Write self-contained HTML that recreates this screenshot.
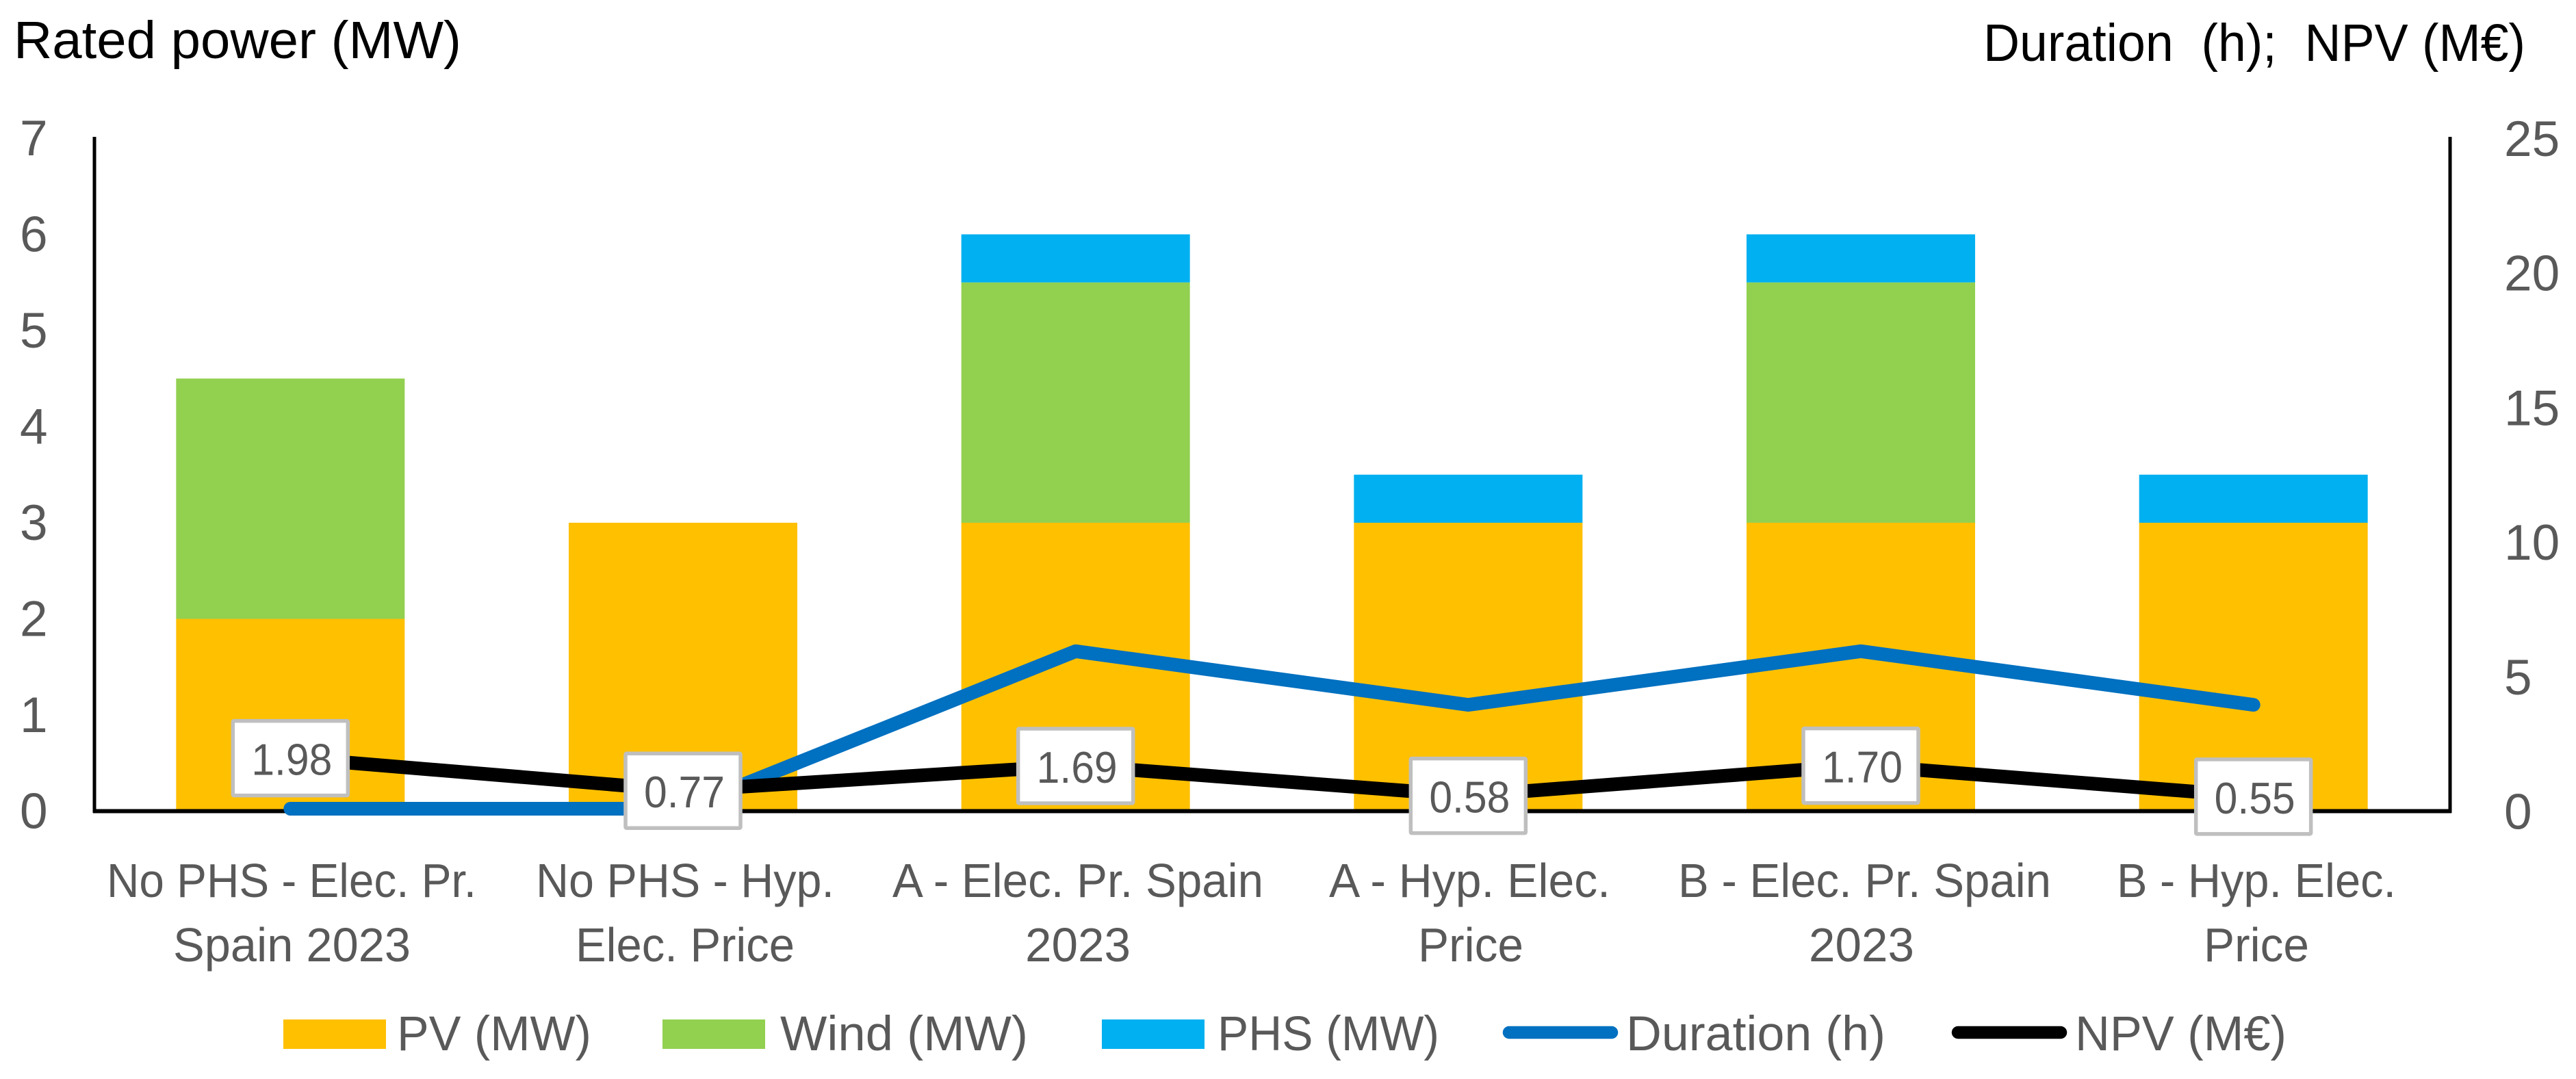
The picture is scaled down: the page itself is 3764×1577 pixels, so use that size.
<!DOCTYPE html>
<html lang="en">
<head>
<meta charset="utf-8">
<title>Rated power, duration and NPV by scenario</title>
<style>
html,body{margin:0;padding:0;background:#fff;}
svg{display:block;}
text{font-family:"Liberation Sans",sans-serif;white-space:pre;}
.title{font-size:77px;fill:#000;}
.cat{font-size:70px;fill:#595959;}
.leg{font-size:71px;fill:#595959;}
.tick{font-size:73px;fill:#595959;}
.dl{font-size:65px;fill:#595959;text-anchor:middle;}
</style>
</head>
<body>
<svg id="chart" xmlns="http://www.w3.org/2000/svg" width="3764" height="1577" viewBox="0 0 3764 1577">
  <rect x="0" y="0" width="3764" height="1577" fill="#fff"/>
  <text class="title" x="20" y="85" textLength="654" lengthAdjust="spacingAndGlyphs">Rated power (MW)</text>
  <text class="title" x="2898" y="89" textLength="792" lengthAdjust="spacingAndGlyphs">Duration  (h);  NPV (M€)</text>
  <g id="bars"></g>
  <g id="axes">
    <line x1="138" y1="200" x2="138" y2="1188" stroke="#000" stroke-width="5"/>
    <line x1="3580" y1="200" x2="3580" y2="1188" stroke="#000" stroke-width="5"/>
    <line x1="136" y1="1185.5" x2="3582" y2="1185.5" stroke="#000" stroke-width="6"/>
  </g>
  <g id="ticks"></g>
  <g id="lines"></g>
  <g id="labels"></g>
  <g>
    <text class="cat" x="156" y="1311" textLength="540" lengthAdjust="spacingAndGlyphs">No PHS - Elec. Pr.</text>
    <text class="cat" x="253" y="1405" textLength="347" lengthAdjust="spacingAndGlyphs">Spain 2023</text>
    <text class="cat" x="783" y="1311" textLength="436" lengthAdjust="spacingAndGlyphs">No PHS - Hyp.</text>
    <text class="cat" x="841" y="1405" textLength="320" lengthAdjust="spacingAndGlyphs">Elec. Price</text>
    <text class="cat" x="1304" y="1311" textLength="542" lengthAdjust="spacingAndGlyphs">A - Elec. Pr. Spain</text>
    <text class="cat" x="1498" y="1405" textLength="154" lengthAdjust="spacingAndGlyphs">2023</text>
    <text class="cat" x="1942" y="1311" textLength="411" lengthAdjust="spacingAndGlyphs">A - Hyp. Elec.</text>
    <text class="cat" x="2072" y="1405" textLength="154" lengthAdjust="spacingAndGlyphs">Price</text>
    <text class="cat" x="2452" y="1311" textLength="545" lengthAdjust="spacingAndGlyphs">B - Elec. Pr. Spain</text>
    <text class="cat" x="2643" y="1405" textLength="154" lengthAdjust="spacingAndGlyphs">2023</text>
    <text class="cat" x="3093" y="1311" textLength="408" lengthAdjust="spacingAndGlyphs">B - Hyp. Elec.</text>
    <text class="cat" x="3220" y="1405" textLength="154" lengthAdjust="spacingAndGlyphs">Price</text>
  </g>
  <g>
    <g>
      <rect x="414" y="1490" width="150" height="43" fill="#FFC000"/>
      <text class="leg" x="580" y="1535" textLength="284" lengthAdjust="spacingAndGlyphs">PV (MW)</text>
    </g>
    <g>
      <rect x="968" y="1490" width="150" height="43" fill="#92D050"/>
      <text class="leg" x="1140" y="1535" textLength="362" lengthAdjust="spacingAndGlyphs">Wind (MW)</text>
    </g>
    <g>
      <rect x="1610" y="1490" width="150" height="43" fill="#00B0F0"/>
      <text class="leg" x="1779" y="1535" textLength="324" lengthAdjust="spacingAndGlyphs">PHS (MW)</text>
    </g>
    <g>
      <line x1="2205" y1="1509" x2="2355" y2="1509" stroke="#0070C0" stroke-width="18.5" stroke-linecap="round"/>
      <text class="leg" x="2376" y="1535" textLength="379" lengthAdjust="spacingAndGlyphs">Duration (h)</text>
    </g>
    <g>
      <line x1="2861" y1="1509" x2="3011" y2="1509" stroke="#000" stroke-width="18.5" stroke-linecap="round"/>
      <text class="leg" x="3032" y="1535" textLength="309" lengthAdjust="spacingAndGlyphs">NPV (M€)</text>
    </g>
  </g>
</svg>
<script>
const categories = ["No PHS - Elec. Pr. Spain 2023", "No PHS - Hyp. Elec. Price", "A - Elec. Pr. Spain 2023", "A - Hyp. Elec. Price", "B - Elec. Pr. Spain 2023", "B - Hyp. Elec. Price"];
const pvValues = [2, 3, 3, 3, 3, 3];
const windValues = [2.5, 0, 2.5, 0, 2.5, 0];
const phsValues = [0, 0, 0.5, 0.5, 0.5, 0.5];
const durationValues = [0.09, 0.09, 5.94, 3.95, 5.94, 3.95];
const npvValues = [1.98, 0.77, 1.69, 0.58, 1.70, 0.55];
const leftTicks = [0, 1, 2, 3, 4, 5, 6, 7];
const rightTicks = [0, 5, 10, 15, 20, 25];

const NS = "http://www.w3.org/2000/svg";
const plotLeft = 137.5, plotRight = 3579.5, plotBottom = 1185.5, plotTop = 202;
const leftMax = 7, rightMax = 25, barWidth = 334;
const xCenter = i => plotLeft + (plotRight - plotLeft) * (i + 0.5) / categories.length;
const yLeft = v => plotBottom - (plotBottom - plotTop) * v / leftMax;
const yRight = v => plotBottom - (plotBottom - plotTop) * v / rightMax;
function mk(tag, attrs, parent) {
  const el = document.createElementNS(NS, tag);
  for (const k in attrs) el.setAttribute(k, attrs[k]);
  parent.appendChild(el);
  return el;
}
const barsG = document.getElementById("bars");
const ticksG = document.getElementById("ticks");
const linesG = document.getElementById("lines");
const labelsG = document.getElementById("labels");

categories.forEach((c, i) => {
  let base = 0;
  const parts = [["pv", pvValues[i], "#FFC000"], ["wind", windValues[i], "#92D050"], ["phs", phsValues[i], "#00B0F0"]];
  parts.forEach(p => {
    if (p[1] <= 0) return;
    const yTop = yLeft(base + p[1]);
    const yBot = yLeft(base);
    const r = mk("rect", {x: xCenter(i) - barWidth / 2, y: yTop, width: barWidth, height: yBot - yTop, fill: p[2]}, barsG);
    
    
    base += p[1];
  });
});

leftTicks.forEach(v => {
  const t = mk("text", {x: 29, y: yLeft(v) + 25, class: "tick"}, ticksG);
  
  
  t.textContent = String(v);
});
rightTicks.forEach(v => {
  const t = mk("text", {x: 3659, y: yRight(v) + 26, class: "tick"}, ticksG);
  
  
  t.textContent = String(v);
});

const durationPts = durationValues.map((v, i) => xCenter(i) + "," + yRight(v)).join(" ");
const durationLine = mk("polyline", {points: durationPts, fill: "none", stroke: "#0070C0", "stroke-width": 20, "stroke-linecap": "round", "stroke-linejoin": "round"}, linesG);



const npvPts = npvValues.map((v, i) => xCenter(i) + "," + yRight(v)).join(" ");
const npvLine = mk("polyline", {points: npvPts, fill: "none", stroke: "#000", "stroke-width": 20, "stroke-linecap": "round", "stroke-linejoin": "round"}, linesG);



npvValues.forEach((v, i) => {
  const cx = xCenter(i), cy = yRight(v);
  const box = mk("rect", {x: cx - 84, y: cy - 54, width: 168, height: 109, rx: 1.5, fill: "#fff", stroke: "#BFBFBF", "stroke-width": 5.5}, labelsG);
  
  
  const t = mk("text", {x: cx + 2, y: cy + 25, class: "dl", textLength: 118, lengthAdjust: "spacingAndGlyphs"}, labelsG);
  
  
  t.textContent = v.toFixed(2);
});
</script>
</body>
</html>
